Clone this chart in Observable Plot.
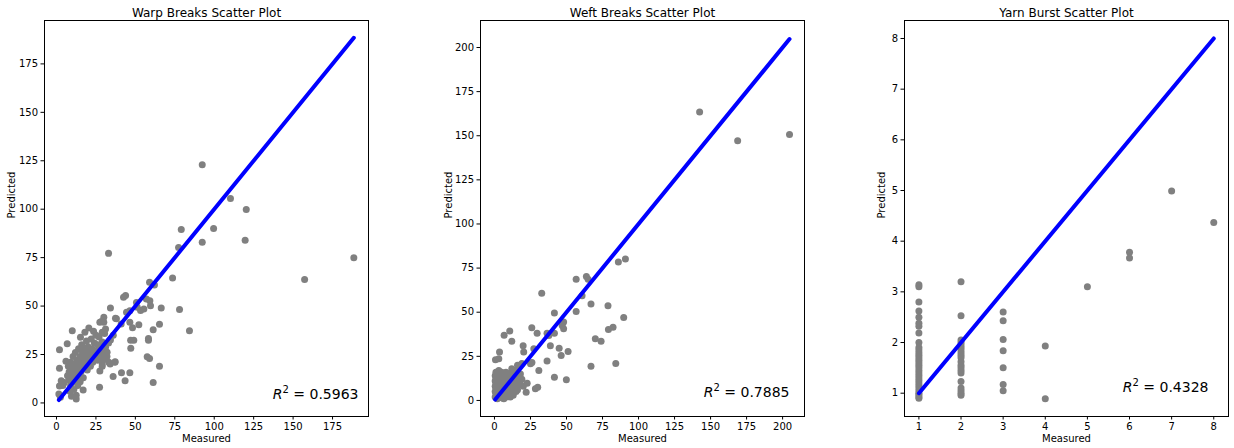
<!DOCTYPE html>
<html><head><meta charset="utf-8">
<script src="https://cdn.jsdelivr.net/npm/d3@7"></script>
<script src="https://cdn.jsdelivr.net/npm/@observablehq/plot@0.6"></script>
<style>
body{margin:0;background:#fff;width:1234px;height:448px;position:relative;overflow:hidden;font-family:"DejaVu Sans",sans-serif;}
.panel{position:absolute;top:0;}
</style></head><body>
<div id="p1" class="panel" style="left:0px"></div>
<div id="p2" class="panel" style="left:420px"></div>
<div id="p3" class="panel" style="left:840px"></div>
<script>
const titles = ["Warp Breaks Scatter Plot", "Weft Breaks Scatter Plot", "Yarn Burst Scatter Plot"];
const r2Values = ["0.5963", "0.7885", "0.4328"];
const xLabel = "Measured";
const yLabel = "Predicted";

const warpMeasured = [92.4,110.3,120.3,79.1,99.6,77.4,92.4,119.6,33,188.5,157.3,73.6,59,62.1,78,84.3,66.4,65.3,61.3,58.3,58.3,57.5,59,65.3,61.3,46.5,41.2,43.5,35.9,37.2,34,27.3,16.9,12.5,1.9,1.9,1.9,6.8,10,15.2,34.2,38,42.5,43.8,30,27.5,30,46.5,48.2,47,49,47.1,52.2,59.2,50.7,57,51.2,53.3,55.4,59.6,44.4,46.5,31.1,29,34.2,29,32.1,31.1,29,27.9,37,33.2,27.5,29,37.4,41,36,3,1.5,2.5,4,5,6,7,7.5,8,8,8.5,9,9,9.5,10,10,10.5,11,11,11.5,12,12,12.5,13,13,13.5,14,14,14.5,15,15,15.5,16,16,16.5,17,17,17.5,18,18,18.5,19,19,19.5,20,20,20.5,21,21.5,22,22,22.5,23,23.5,24,24,24.5,25,25,26,26,27,27,28,28,28.5,29,30,30.5,31,32,33];
const warpPredicted = [123,105.5,99.8,89.5,90,80.2,82.9,84,77.2,75,63.7,64.5,62.3,60.9,48.2,37.3,49,40.6,37.8,33.2,32.3,23.9,23,18.9,10.5,15.6,15.6,11.5,13.7,21.3,20.1,8.1,6.7,2,27.4,17.9,8.8,30.5,37.3,33.9,49,43.5,54.5,55.4,44.2,41.6,41.6,41.6,38.8,32.3,32.3,28.2,40.4,52.8,51.9,53.7,49.4,47.7,48.5,50.2,46.8,47.6,38.2,36.5,32.5,31.5,26.1,28.7,20.1,23.5,21,21,16.5,19,43.7,40.8,35,11.5,4.6,3,9,10.5,21.5,14,19,12,16,6,21,9,3.5,13,18,24,7,15,20,11,26,4,17,22,9,14,28,19,24,11,16,21,30,26,13,18,23,36.5,28,20,25,32,17,22,29,38.7,26,19,24,33,28,21,37,25,31,23,35,27,22,30,25,34,22.5,28,42,24,26.5,35.8,22.5,24,31];

const weftMeasured = [142.4,168.8,204.8,90.9,86,56.7,63.8,65,60.8,32.8,67,78.8,56.7,41.6,89.7,48,47,48,25.9,29.6,36.5,37.7,41.6,6.7,10.6,12,38.8,19.9,20.3,3.5,0.7,3,70,74,79.1,82.3,44.9,51.1,46.3,36.5,84.2,67,41.6,49.9,30.8,30,28.4,22,22.7,25,26,27.3,17,19,16,12,14,15,17,19,18,20,16,13,15,0.5,0.5,0.5,0.5,0.5,1,1,1,1,1,1.5,1.5,1.5,2,2,2,2,2.5,2.5,3,3,3,3,3.5,3.5,4,4,4,4.5,4.5,5,5,5,5,5.5,6,6,6,6.5,6.5,7,7,7,7.5,8,8,8,8.5,9,9,9.5,10,10,10.5,11,11,12,12,13,13,14,15,16,18];
const weftPredicted = [163.5,147.1,150.7,80.1,78.4,68.7,70.3,68.7,59.3,60.8,54.6,53.6,50.4,49.5,47,44.4,42.5,40.6,41.2,38.1,38.1,36.8,38.1,37,39.3,33.6,31,31,27.4,27.4,23.1,23.6,34.9,33.6,40.2,41.5,29.6,27.8,25.5,22.3,21,19.4,13.2,11.7,17,7.5,6.6,4.7,9.8,20.8,21.5,29.3,19,21,20,18,17,15,14,12,9,8,6,3,5,2,5,8,11,14,4,7,10,12,16,3,9,13,1,6,11,15,8,12,3,10,14,17,6,12,2,9,15,5,11,1.5,7,13,16,10,4,12,15,1,8,3,11,14,6,9,13,16,2,7,12,4,10,15,6,13,2,8,11,14,5,10,8,12,15];

const yarnMeasured = [1,1,1,1,1,1,1,1,1,1,1,1,1,1,1,1,1,1,1,1,1,1,1,1,1,1,1,1,1,1,1,2,2,2,2,2,2,2,2,2,2,2,2,2,2,2,2,2,2,2,2,3,3,3,3,3,3,3,4,4,5,6,6,7,8];
const yarnPredicted = [3.14,3.1,2.8,2.62,2.5,2.38,2.32,2.19,2.0,1.9,1.85,1.8,1.75,1.7,1.65,1.6,1.55,1.5,1.45,1.4,1.35,1.3,1.25,1.2,1.15,1.1,1.05,1.0,0.97,0.93,0.9,3.2,2.53,2.05,2.0,1.95,1.9,1.85,1.8,1.75,1.7,1.62,1.55,1.5,1.45,1.4,1.23,1.1,1.05,1.0,0.96,2.6,2.43,2.06,1.84,1.5,1.17,1.05,1.93,0.89,3.1,3.78,3.67,4.99,4.37];

const ticks0to175 = [0,25,50,75,100,125,150,175];
const ticks0to200 = [0,25,50,75,100,125,150,175,200];
const ticks1to8 = [1,2,3,4,5,6,7,8];

function panel(el, cfg) {
  const pts = cfg.measured.map((m, i) => ({m, p: cfg.predicted[i]}));
  const ext = d3.extent(cfg.measured);
  const diag = ext.map(v => ({m: v, p: v}));
  const svg = Plot.plot({
    width: cfg.width, height: 448,
    marginLeft: cfg.marginLeft, marginRight: cfg.marginRight, marginTop: 20, marginBottom: 32,
    style: {fontFamily: "DejaVu Sans", fontSize: "10px", color: "#000", background: "#fff", overflow: "visible"},
    x: {domain: cfg.xDomain},
    y: {domain: cfg.yDomain},
    marks: [
      Plot.axisX({ticks: cfg.xTicks, tickSize: 3.5, tickPadding: 3, label: null, tickFormat: d => String(d)}),
      Plot.axisY({ticks: cfg.yTicks, tickSize: 3.5, tickPadding: 3, label: null, tickFormat: d => String(d)}),
      Plot.dot(pts, {x: "m", y: "p", r: 3.5, fill: "#808080", stroke: null}),
      Plot.line(diag, {x: "m", y: "p", stroke: "#0000ff", strokeWidth: 4}),
      Plot.frame({stroke: "#000", strokeWidth: 1}),
      Plot.text([cfg.title], {text: d => d, frameAnchor: "top", dy: -12, fontSize: 12}),
      Plot.text([yLabel], {text: d => d, frameAnchor: "left", dx: cfg.ylabDx, rotate: -90}),
      Plot.text([xLabel], {text: d => d, frameAnchor: "bottom", dy: 25}),
      Plot.text(["R2 = " + cfg.r2], {text: d => d, frameAnchor: "bottom-right", textAnchor: "end", dx: cfg.r2dx, dy: cfg.r2dy, fontSize: 14})
    ]
  });
  svg.querySelectorAll("text").forEach(t => {
    if (t.textContent === "R2 = " + cfg.r2) {
      t.textContent = "";
      const ns = "http://www.w3.org/2000/svg";
      const a = document.createElementNS(ns, "tspan"); a.setAttribute("font-style", "italic"); a.textContent = "R";
      const b = document.createElementNS(ns, "tspan"); b.setAttribute("font-size", "10"); b.setAttribute("dy", "-6"); b.textContent = "2";
      const c = document.createElementNS(ns, "tspan"); c.setAttribute("dy", "6"); c.textContent = " = " + cfg.r2;
      t.append(a, b, c);
    }
  });
  document.getElementById(el).append(svg);
}

panel("p1", {measured: warpMeasured, predicted: warpPredicted, title: titles[0], r2: r2Values[0],
  width: 420, marginLeft: 44, marginRight: 52, xDomain: [-7.6, 197.8], yDomain: [-7.0, 197.4],
  xTicks: ticks0to175, yTicks: ticks0to175, ylabDx: -33, r2dx: -10, r2dy: -18});
panel("p2", {measured: weftMeasured, predicted: weftPredicted, title: titles[1], r2: r2Values[1],
  width: 420, marginLeft: 60, marginRight: 36, xDomain: [-9.7, 215.2], yDomain: [-9.1, 215.3],
  xTicks: ticks0to200, yTicks: ticks0to200, ylabDx: -32, r2dx: -15, r2dy: -20});
panel("p3", {measured: yarnMeasured, predicted: yarnPredicted, title: titles[2], r2: r2Values[2],
  width: 394, marginLeft: 64, marginRight: 6, xDomain: [0.658, 8.35], yDomain: [0.54, 8.355],
  xTicks: ticks1to8, yTicks: ticks1to8, ylabDx: -23, r2dx: -20, r2dy: -25});
</script>
</body></html>
